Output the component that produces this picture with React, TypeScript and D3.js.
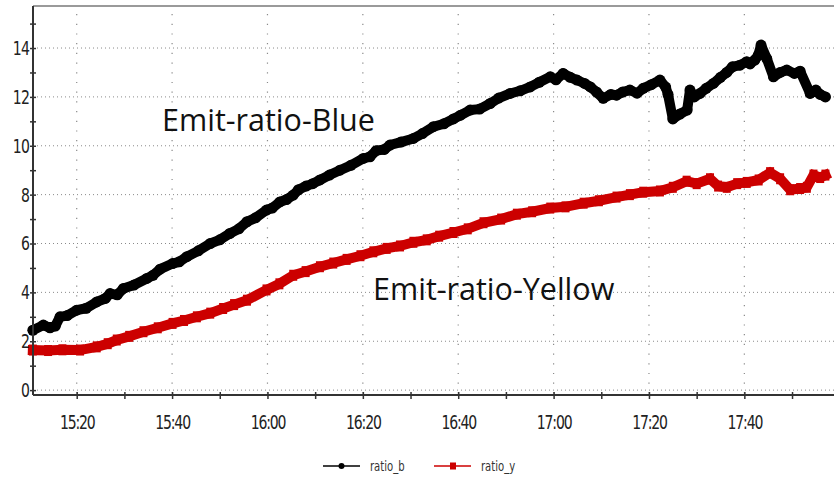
// @ts-nocheck
import React from "react";
import * as d3 from "d3";

// readings taken off the trend plot (HH:MM:SS, value)
const timesB = [
  "15:10:48", "15:13:00", "15:14:24", "15:15:30", "15:16:30", "15:18:00", "15:20:00", "15:22:00",
  "15:24:12", "15:26:00", "15:27:00", "15:28:30", "15:29:48", "15:32:00", "15:34:42", "15:36:00",
  "15:37:30", "15:40:06", "15:41:30", "15:43:06", "15:45:30", "15:48:00", "15:50:00", "15:52:06",
  "15:54:00", "15:55:42", "15:57:30", "15:59:48", "16:01:00", "16:02:36", "16:04:00", "16:05:24",
  "16:06:30", "16:08:06", "16:09:30", "16:11:00", "16:13:00", "16:15:12", "16:17:30", "16:20:06",
  "16:21:30", "16:22:48", "16:24:30", "16:25:42", "16:28:00", "16:30:36", "16:32:30", "16:34:48",
  "16:37:00", "16:39:00", "16:40:30", "16:42:30", "16:44:30", "16:46:42", "16:48:30", "16:50:54",
  "16:53:00", "16:55:06", "16:57:00", "16:59:18", "17:00:30", "17:02:00", "17:03:30", "17:04:54",
  "17:06:30", "17:07:42", "17:09:00", "17:10:24", "17:12:00", "17:13:12", "17:14:30", "17:16:00",
  "17:17:30", "17:18:48", "17:20:30", "17:22:18", "17:23:30", "17:24:00", "17:25:00", "17:26:30",
  "17:28:00", "17:28:36", "17:29:30", "17:30:42", "17:32:00", "17:33:30", "17:35:00", "17:36:18",
  "17:37:30", "17:39:06", "17:40:30", "17:41:12", "17:42:12", "17:42:54", "17:43:30", "17:44:42",
  "17:46:06", "17:47:30", "17:48:54", "17:50:30", "17:51:42", "17:53:48", "17:55:00", "17:55:54",
  "17:57:00",
];
const ratioB = [
  2.45, 2.66, 2.55, 2.62, 3.0, 3.05, 3.27, 3.35,
  3.61, 3.75, 3.95, 3.9, 4.16, 4.3, 4.57, 4.7,
  4.95, 5.18, 5.25, 5.46, 5.7, 6.0, 6.15, 6.41,
  6.6, 6.89, 7.05, 7.37, 7.45, 7.7, 7.8, 7.98,
  8.2, 8.35, 8.45, 8.6, 8.8, 9.0, 9.2, 9.48,
  9.55, 9.8, 9.85, 10.03, 10.15, 10.3, 10.5, 10.78,
  10.9, 11.1, 11.25, 11.46, 11.5, 11.73, 11.95, 12.14,
  12.25, 12.41, 12.6, 12.82, 12.7, 12.96, 12.8, 12.69,
  12.55, 12.41, 12.2, 11.94, 12.1, 12.07, 12.2, 12.28,
  12.15, 12.35, 12.5, 12.69, 12.4, 12.1, 11.1, 11.3,
  11.46, 12.28, 12.0, 12.14, 12.35, 12.55, 12.8, 13.0,
  13.23, 13.3, 13.44, 13.35, 13.51, 13.7, 14.12, 13.57,
  12.82, 13.0, 13.1, 12.96, 13.05, 12.14, 12.28, 12.1,
  12.0,
];

const timesY = [
  "15:10:48", "15:14:00", "15:17:00", "15:20:42", "15:24:12", "15:26:30", "15:28:24", "15:31:00",
  "15:34:00", "15:37:00", "15:40:06", "15:42:30", "15:45:12", "15:48:00", "15:50:42", "15:53:00",
  "15:55:42", "15:59:48", "16:02:30", "16:05:24", "16:08:00", "16:11:00", "16:13:48", "16:16:36",
  "16:19:30", "16:22:12", "16:25:00", "16:27:48", "16:30:36", "16:33:24", "16:36:00", "16:39:00",
  "16:42:00", "16:45:18", "16:49:00", "16:52:18", "16:55:30", "16:59:18", "17:02:30", "17:06:18",
  "17:09:30", "17:13:12", "17:16:00", "17:18:48", "17:22:18", "17:25:00", "17:27:54", "17:30:00",
  "17:32:48", "17:34:30", "17:36:18", "17:38:30", "17:40:30", "17:43:00", "17:45:24", "17:47:30",
  "17:49:36", "17:51:42", "17:53:06", "17:54:30", "17:55:54", "17:57:00",
];
const ratioY = [
  1.64, 1.62, 1.65, 1.64, 1.77, 1.9, 2.05, 2.2,
  2.39, 2.55, 2.73, 2.85, 3.0, 3.15, 3.34, 3.5,
  3.68, 4.1, 4.35, 4.7, 4.85, 5.05, 5.2, 5.35,
  5.5, 5.66, 5.8, 5.9, 6.05, 6.15, 6.3, 6.45,
  6.6, 6.85, 7.0, 7.2, 7.3, 7.45, 7.5, 7.65,
  7.75, 7.9, 8.0, 8.1, 8.15, 8.3, 8.55, 8.45,
  8.65, 8.35, 8.3, 8.45, 8.5, 8.6, 8.9, 8.65,
  8.2, 8.25, 8.3, 8.8, 8.7, 8.8,
];

const yTicks = [0, 2, 4, 6, 8, 10, 12, 14];
const xTickLabels = ["15:20", "15:40", "16:00", "16:20", "16:40", "17:00", "17:20", "17:40"];
const seriesNames = ["ratio_b", "ratio_y"];
const annotations = ["Emit-ratio-Blue", "Emit-ratio-Yellow"];

const parse = d3.timeParse("%H:%M:%S");
const tickFont = "'Liberation Sans Narrow', 'DejaVu Sans Condensed', 'Arial Narrow', sans-serif";

const App = () => {
  const svgRef = React.useRef(null);
  const width = 834;
  const height = 481;
  const margin = { left: 33, top: 6, right: 0, bottom: 86 };

  React.useEffect(() => {
    const x = d3.scaleTime()
      .domain([parse("15:10:50"), parse("17:58:48")])
      .range([margin.left, width]);
    const y = d3.scaleLinear()
      .domain([-0.2, 15.72])
      .range([height - margin.bottom, margin.top]);

    const svgEl = d3.select(svgRef.current);
    svgEl.selectAll("*").remove();
    const svg = svgEl.append("g");

    const y0 = y(-0.2);

    // dotted grid
    svg.append("g").selectAll("line")
      .data(yTicks)
      .enter().append("line")
      .attr("x1", margin.left).attr("x2", width)
      .attr("y1", d => y(d)).attr("y2", d => y(d))
      .attr("stroke", "#8a8a8a").attr("stroke-width", 1)
      .attr("stroke-dasharray", "1,3");
    const majorTimes = xTickLabels.map(t => parse(t + ":00"));
    svg.append("g").selectAll("line")
      .data(majorTimes)
      .enter().append("line")
      .attr("x1", d => x(d)).attr("x2", d => x(d))
      .attr("y1", margin.top + 8).attr("y2", y0)
      .attr("stroke", "#8a8a8a").attr("stroke-width", 1.2)
      .attr("stroke-dasharray", "1.2,8.5");

    // series as thick dense bands
    const line = d3.line()
      .x(d => x(d[0]))
      .y(d => y(d[1]));
    const ptsY = timesY.map((t, i) => [parse(t), ratioY[i]]);
    const ptsB = timesB.map((t, i) => [parse(t), ratioB[i]]);
    svg.append("path")
      .attr("d", line(ptsY))
      .attr("fill", "none")
      .attr("stroke", "#cc0000")
      .attr("stroke-width", 10)
      .attr("stroke-linejoin", "miter")
      .attr("stroke-linecap", "square");
    svg.append("g").selectAll("rect")
      .data(ptsY)
      .enter().append("rect")
      .attr("x", d => x(d[0]) - 4).attr("y", d => y(d[1]) - 5.5)
      .attr("width", 8).attr("height", 11)
      .attr("fill", "#cc0000");
    svg.append("path")
      .attr("d", line(ptsB))
      .attr("fill", "none")
      .attr("stroke", "#000")
      .attr("stroke-width", 10)
      .attr("stroke-linejoin", "round")
      .attr("stroke-linecap", "round");
    svg.append("g").selectAll("circle")
      .data(ptsB)
      .enter().append("circle")
      .attr("cx", d => x(d[0])).attr("cy", d => y(d[1]))
      .attr("r", 5.5)
      .attr("fill", "#000");

    // frame
    svg.append("line")
      .attr("x1", margin.left).attr("x2", width)
      .attr("y1", margin.top).attr("y2", margin.top)
      .attr("stroke", "#9a9a9a").attr("stroke-width", 2);

    // y axis
    const yAxis = d3.axisLeft(y)
      .tickValues(d3.range(0, 16, 1))
      .tickSize(3)
      .tickFormat(d => (yTicks.includes(d) ? d : ""));
    const yAxisGroup = svg.append("g")
      .attr("transform", `translate(${margin.left},0)`)
      .call(yAxis);
    yAxisGroup.select(".domain")
      .attr("d", `M0,${margin.top}V${y0}`)
      .attr("stroke", "#333").attr("stroke-width", 2);
    yAxisGroup.selectAll("line")
      .attr("x2", -3).attr("x1", 3)
      .attr("stroke", "#333").attr("stroke-width", 1.5);
    yAxisGroup.selectAll("text")
      .attr("x", -5)
      .attr("transform", "scale(0.78,1)")
      .attr("fill", "#222")
      .attr("font-family", tickFont)
      .attr("font-size", 20)
      .attr("letter-spacing", -1);

    // x axis
    const xAxis = d3.axisBottom(x)
      .ticks(d3.timeMinute.every(10))
      .tickSize(4)
      .tickFormat(d => (d.getMinutes() % 20 === 0 ? d3.timeFormat("%H:%M")(d) : ""));
    const xAxisGroup = svg.append("g")
      .attr("transform", `translate(0,${y0})`)
      .call(xAxis);
    xAxisGroup.select(".domain")
      .attr("d", `M${margin.left},0H${width}`)
      .attr("stroke", "#333").attr("stroke-width", 2);
    xAxisGroup.selectAll("line")
      .attr("y1", -3).attr("y2", 4)
      .attr("stroke", "#333").attr("stroke-width", 1.5);
    xAxisGroup.selectAll("text")
      .attr("y", 20)
      .attr("transform", "scale(0.78,1)")
      .attr("fill", "#222")
      .attr("font-family", tickFont)
      .attr("font-size", 20)
      .attr("letter-spacing", -1.5);

    // annotations
    svg.append("text")
      .attr("x", 162).attr("y", y(10.6))
      .attr("font-family", "'Open Sans', sans-serif")
      .attr("font-size", 30.5)
      .attr("fill", "#111")
      .text(annotations[0]);
    svg.append("text")
      .attr("x", 373).attr("y", y(3.7))
      .attr("font-family", "'Open Sans', sans-serif")
      .attr("font-size", 30.5)
      .attr("fill", "#111")
      .text(annotations[1]);

    // legend
    const legend = svg.append("g").attr("transform", "translate(323,466)");
    const colors = ["#000", "#cc0000"];
    seriesNames.forEach((name, i) => {
      const g = legend.append("g").attr("transform", `translate(${i * 111},0)`);
      g.append("line").attr("x1", 0).attr("x2", 37).attr("y1", 0).attr("y2", 0)
        .attr("stroke", colors[i]).attr("stroke-width", 1.5);
      if (i === 0) {
        g.append("circle").attr("cx", 18.5).attr("cy", 0).attr("r", 3).attr("fill", colors[i]);
      } else {
        g.append("rect").attr("x", 16).attr("y", -3.5).attr("width", 6).attr("height", 7).attr("fill", colors[i]);
      }
      g.append("text")
        .attr("x", 47 / 0.8).attr("y", 4.5)
        .attr("transform", "scale(0.8,1)")
        .attr("font-family", tickFont)
        .attr("font-size", 14)
        .attr("fill", "#333")
        .text(name);
    });
  }, []);

  return <svg ref={svgRef} width={width} height={height}
    style={{ position: "absolute", left: 0, top: 0, background: "#fff" }} />;
};

export default App;
